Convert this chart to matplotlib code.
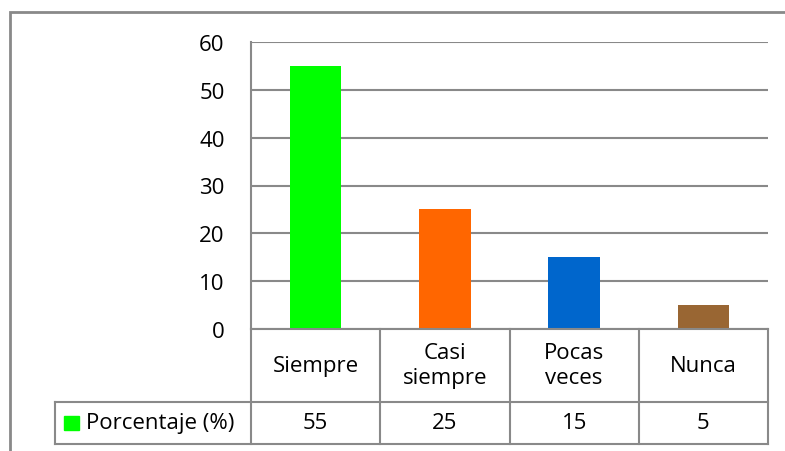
import matplotlib
matplotlib.use("Agg")
import matplotlib.pyplot as plt
from matplotlib.lines import Line2D
from matplotlib.patches import Rectangle
import matplotlib.transforms as mtransforms

categories = ["Siempre", "Casi\nsiempre", "Pocas\nveces", "Nunca"]
values = [55, 25, 15, 5]
colors = ["#00FF00", "#FF6600", "#0066CC", "#996633"]
series_name = "Porcentaje (%)"
yticks = [0, 10, 20, 30, 40, 50, 60]

W, H = 785, 452
plt.rcParams['font.family'] = ['Open Sans', 'DejaVu Sans']
fig = plt.figure(figsize=(W / 100, H / 100), dpi=100)

def fx(px): return px / W
def fy(py): return 1 - py / H

gray = "#898989"
FS = 16

ax_l, ax_r, ax_t, ax_b = 251, 768, 43, 330
ax = fig.add_axes([fx(ax_l), fy(ax_b), fx(ax_r) - fx(ax_l), fy(ax_t) - fy(ax_b)])
n = len(categories)
x = list(range(n))
ax.bar(x, values, width=0.4, color=colors, zorder=3)
ax.set_xlim(-0.5, n - 0.5)
ax.set_ylim(0, 60)
ax.set_yticks(yticks)
ax.set_yticklabels([str(t) for t in yticks], fontsize=FS)
ax.tick_params(axis='y', length=0, pad=19)
ax.set_xticks([])
for s in ["top", "right", "bottom"]:
    ax.spines[s].set_visible(False)
ax.spines["left"].set_color(gray)
ax.spines["left"].set_linewidth(1.5)
ax.yaxis.grid(True, color=gray, linewidth=1.5, zorder=0)
ax.set_axisbelow(True)

# outer frame
fig.add_artist(Rectangle((fx(10), fy(470)), fx(800) - fx(10), fy(13) - fy(470),
                         transform=fig.transFigure, fill=False, edgecolor=gray, linewidth=2))

# data table
row1_top, row1_bot, row2_bot = 330, 403, 445
legend_left = 55
def hline(x0, x1, y):
    fig.add_artist(Line2D([fx(x0), fx(x1)], [fy(y), fy(y)], transform=fig.transFigure,
                          color=gray, linewidth=1.5))
def vline(xp, y0, y1):
    fig.add_artist(Line2D([fx(xp), fx(xp)], [fy(y0), fy(y1)], transform=fig.transFigure,
                          color=gray, linewidth=1.5))
hline(ax_l, ax_r, row1_top)
hline(legend_left, ax_r, row1_bot)
hline(legend_left, ax_r, row2_bot)
vline(legend_left, row1_bot, row2_bot)
for i in range(n + 1):
    xp = ax_l + (ax_r - ax_l) * i / n
    vline(xp, row1_top, row2_bot)

trans = mtransforms.blended_transform_factory(ax.transData, fig.transFigure)
for i, (c, v) in enumerate(zip(categories, values)):
    fig.text(i, fy((row1_top + row1_bot) / 2), c, transform=trans, ha='center', va='center',
             fontsize=FS, linespacing=1.25)
    fig.text(i, fy((row1_bot + row2_bot) / 2), str(v), transform=trans, ha='center', va='center',
             fontsize=FS)

# legend key
ymid = (row1_bot + row2_bot) / 2
fig.add_artist(Rectangle((fx(64), fy(ymid + 7)), fx(79) - fx(64), fy(ymid - 7) - fy(ymid + 7),
                         transform=fig.transFigure, color=colors[0]))
fig.text(fx(86), fy(ymid), series_name, ha='left', va='center', fontsize=FS)

fig.savefig("out.png", dpi=100)
